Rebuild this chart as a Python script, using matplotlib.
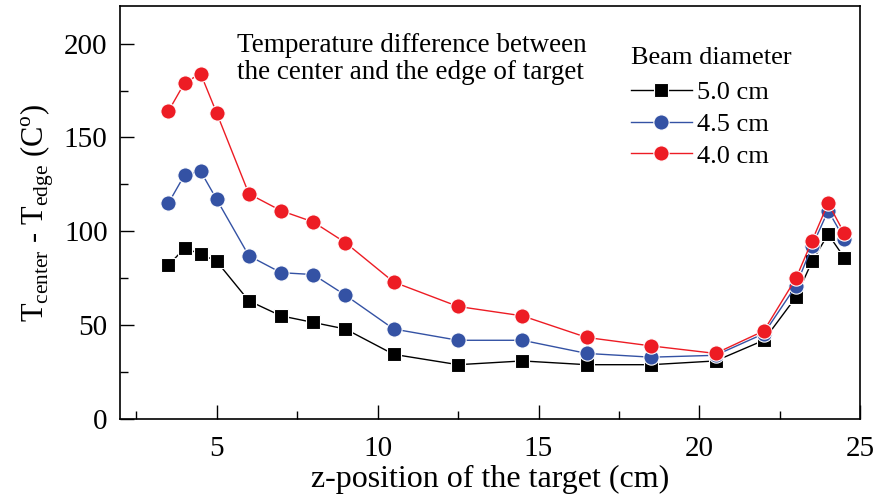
import matplotlib
matplotlib.use("Agg")
import matplotlib.pyplot as plt
from matplotlib.ticker import MultipleLocator

plt.rcParams['font.family'] = ['Liberation Serif', 'DejaVu Serif']
plt.rcParams['mathtext.fontset'] = 'custom'
plt.rcParams['mathtext.rm'] = 'Liberation Serif'

# z-position of the target (cm)
z = [3.5, 4, 4.5, 5, 6, 7, 8, 9, 10.5, 12.5, 14.5, 16.5, 18.5, 20.5, 22, 23, 23.5, 24, 24.5]

# temperature difference for each beam diameter
dT_50 = [82, 91, 88, 84, 63, 55, 51.5, 48, 34.5, 29, 31, 29, 29, 31, 42, 65, 84, 98.5, 86]
dT_45 = [115, 130, 132, 117, 87, 78, 77, 66, 48, 42, 42, 35, 33, 34, 45.5, 71, 92, 111, 96]
dT_40 = [164, 179, 184, 163, 120, 111, 105, 94, 73, 60, 55, 43.5, 39, 35, 47, 75, 95, 115, 99]

labels = ["5.0 cm", "4.5 cm", "4.0 cm"]
colors = ["#000000", "#3452a4", "#ed1c24"]
markers = ["s", "o", "o"]

fig = plt.figure(figsize=(8.77, 4.99), dpi=100)
ax = fig.add_axes([0.137, 0.160, 0.844, 0.828])

for y, lab, c, m in zip([dT_50, dT_45, dT_40], labels, colors, markers):
    ms = 9.5 if m == "s" else 11
    ax.plot(z, y, color=c, lw=1.0, marker=m, ms=ms, mfc=c,
            mec="white", mew=0.8, label=lab)

ax.set_xlim(2, 25)
ax.set_ylim(0, 220)
ax.xaxis.set_major_locator(MultipleLocator(5))
ax.xaxis.set_minor_locator(MultipleLocator(2.5))
ax.yaxis.set_major_locator(MultipleLocator(50))
ax.yaxis.set_minor_locator(MultipleLocator(25))
ax.set_yticks([0, 50, 100, 150, 200])
ax.tick_params(which='both', direction='in', labelsize=21, width=1)
ax.tick_params(which='major', length=10)
ax.tick_params(axis='x', which='major', pad=12)
ax.tick_params(axis='y', which='major', pad=9)
ax.tick_params(which='minor', length=6)
for s in ax.spines.values():
    s.set_linewidth(1.2)

ax.set_xlabel("z-position of the target (cm)", fontsize=23, labelpad=2)
ax.set_ylabel(r"T$_{\rm center}$ - T$_{\rm edge}$ (C$^{\rm o}$)", fontsize=22, labelpad=6)

ax.text(0.158, 0.935, "Temperature difference between\nthe center and the edge of target",
        transform=ax.transAxes, fontsize=19.5, va='top', ha='left', linespacing=1.1)

leg = ax.legend(loc='upper left', bbox_to_anchor=(0.69, 0.9), frameon=False,
                title="Beam diameter", fontsize=19, title_fontsize=19,
                handlelength=2.3, handletextpad=0.2, labelspacing=0.32,
                borderaxespad=0, borderpad=0)
leg._legend_box.align = "left"
leg._legend_box.sep = 8

fig.savefig("out.png", dpi=100)
